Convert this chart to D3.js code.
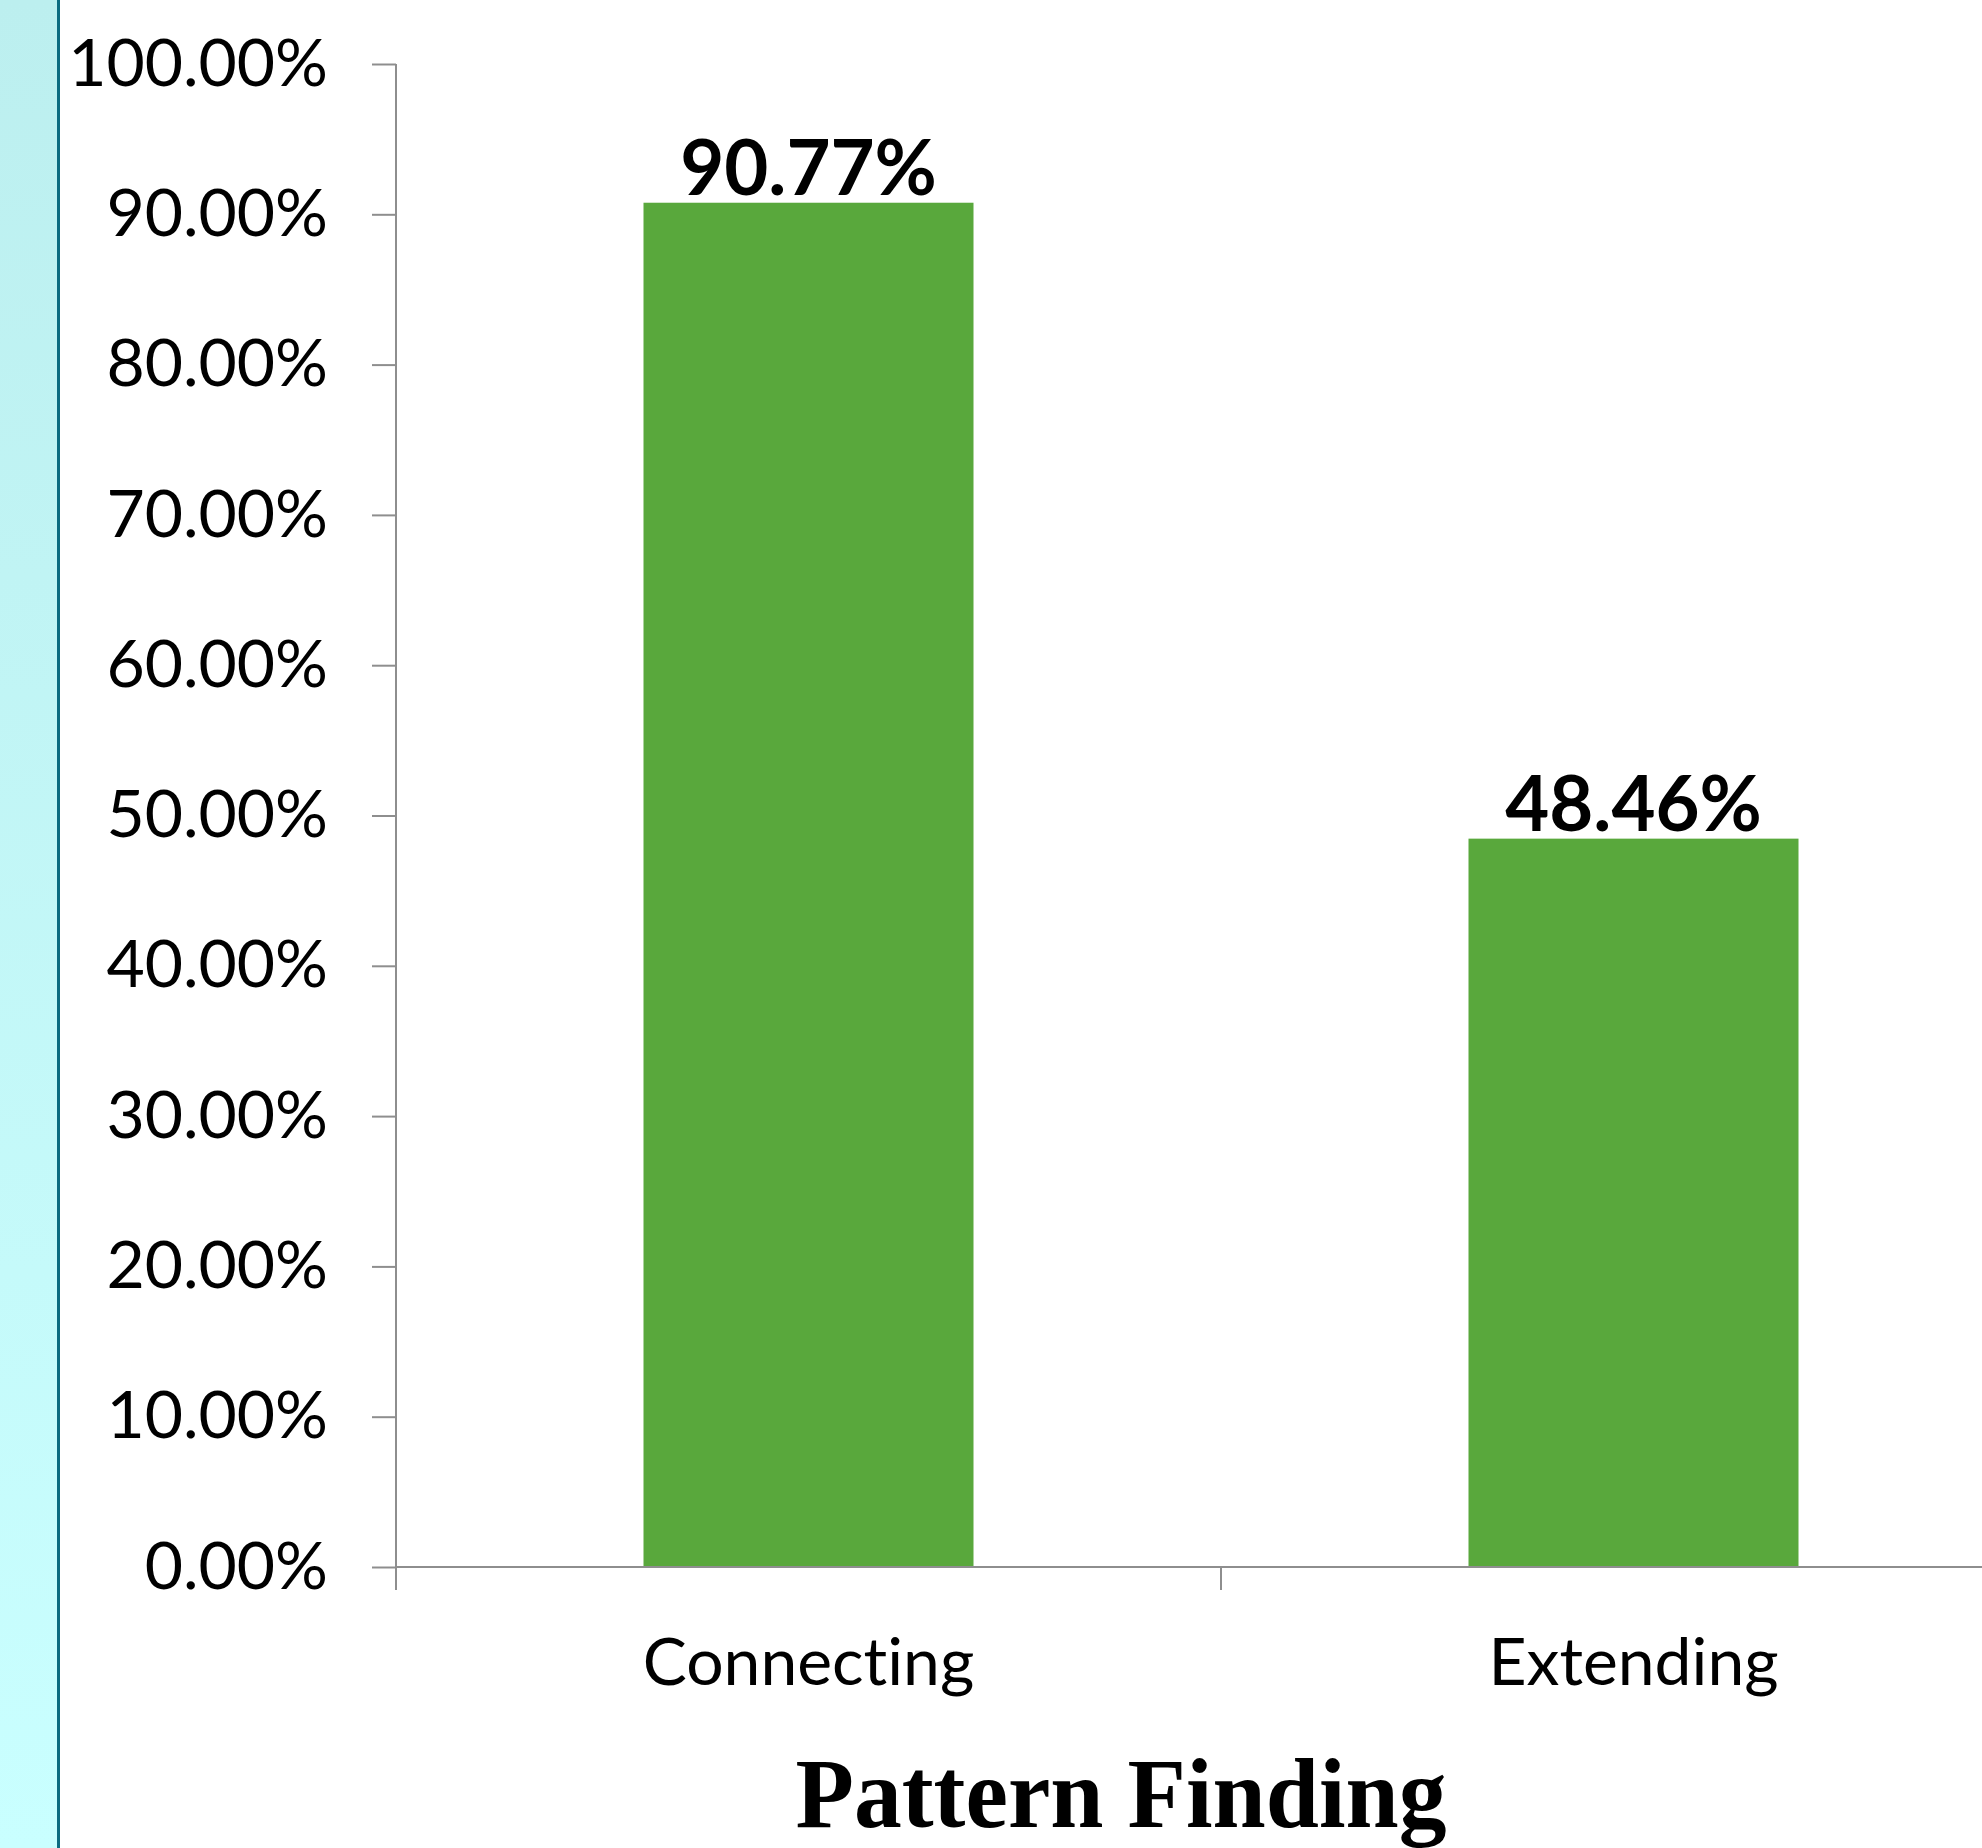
<!DOCTYPE html>
<html>
<head>
<meta charset="utf-8">
<script src="https://cdn.jsdelivr.net/npm/d3@7"></script>
<style>
  html, body { margin: 0; padding: 0; background: #ffffff; }
  svg { display: block; }
  text { font-variant-ligatures: none; font-feature-settings: "liga" 0; }
</style>
</head>
<body>
<script>
// Share of responses per pattern-finding strategy
const categories = ["Connecting", "Extending"];
const values = [0.9077, 0.4846];
const valueLabels = ["90.77%", "48.46%"];
const yTickValues = [0, 0.1, 0.2, 0.3, 0.4, 0.5, 0.6, 0.7, 0.8, 0.9, 1.0];
const yTickLabels = ["0.00%", "10.00%", "20.00%", "30.00%", "40.00%", "50.00%",
                     "60.00%", "70.00%", "80.00%", "90.00%", "100.00%"];
const chartTitle = "Pattern Finding";

const W = 1982, H = 1848;
const sansFont = "Lato, 'Open Sans', 'Liberation Sans', sans-serif";
const serifFont = "'Liberation Serif', 'DejaVu Serif', serif";

const svg = d3.select("body").append("svg")
  .attr("width", W).attr("height", H);

// Decorative side band with a dark edge
const defs = svg.append("defs");
const grad = defs.append("linearGradient")
  .attr("id", "sideBand").attr("x1", 0).attr("y1", 0).attr("x2", 0).attr("y2", 1);
grad.append("stop").attr("offset", "0%").attr("stop-color", "#bcefef");
grad.append("stop").attr("offset", "100%").attr("stop-color", "#c9ffff");
svg.append("rect").attr("x", 0).attr("y", 0).attr("width", 57).attr("height", H)
  .attr("fill", "url(#sideBand)");
svg.append("rect").attr("x", 57).attr("y", 0).attr("width", 3).attr("height", H)
  .attr("fill", "#0b6b80");

// Scales
const x = d3.scaleBand().domain(categories).range([396, 2046]).padding(0);
const y = d3.scaleLinear().domain([0, 1]).range([1567, 64]);
const barWidth = x.bandwidth() / 2.5;
const axisColor = "#8e8e8e";

// Y axis
const yAxis = d3.axisLeft(y)
  .tickValues(yTickValues)
  .tickFormat((d, i) => yTickLabels[i])
  .tickSize(24)
  .tickPadding(44);
const gy = svg.append("g").attr("transform", "translate(396,0)").call(yAxis);
gy.select(".domain").remove();
gy.selectAll(".tick line").attr("stroke", axisColor).attr("stroke-width", 2);
gy.selectAll(".tick text")
  .attr("font-family", sansFont).attr("font-size", 66).attr("fill", "#000");
svg.append("line")
  .attr("x1", 396).attr("x2", 396).attr("y1", y(1)).attr("y2", y(0) + 23)
  .attr("stroke", axisColor).attr("stroke-width", 2);

// Bars
svg.append("g").selectAll("rect")
  .data(categories)
  .join("rect")
  .attr("x", (d) => x(d) + (x.bandwidth() - barWidth) / 2)
  .attr("y", (d, i) => y(values[i]))
  .attr("width", barWidth)
  .attr("height", (d, i) => y(0) - y(values[i]))
  .attr("fill", "#59a83c");

// X axis: baseline with ticks at category boundaries
svg.append("line")
  .attr("x1", 396).attr("x2", W).attr("y1", y(0)).attr("y2", y(0))
  .attr("stroke", axisColor).attr("stroke-width", 2);
svg.append("g").selectAll("line")
  .data(categories)
  .join("line")
  .attr("x1", (d) => x(d)).attr("x2", (d) => x(d))
  .attr("y1", y(0)).attr("y2", y(0) + 23)
  .attr("stroke", axisColor).attr("stroke-width", 2);

// Category labels
svg.append("g").selectAll("text")
  .data(categories)
  .join("text")
  .attr("x", (d) => x(d) + x.bandwidth() / 2)
  .attr("y", 1685)
  .attr("text-anchor", "middle")
  .attr("font-family", sansFont).attr("font-size", 66).attr("fill", "#000")
  .text((d) => d);

// Value labels above bars
svg.append("g").selectAll("text")
  .data(categories)
  .join("text")
  .attr("x", (d) => x(d) + x.bandwidth() / 2)
  .attr("y", (d, i) => y(values[i]) - 8)
  .attr("text-anchor", "middle")
  .attr("font-family", sansFont).attr("font-weight", "bold")
  .attr("font-size", 76).attr("fill", "#000")
  .text((d, i) => valueLabels[i]);

// Title, set in a condensed bold serif
svg.append("text")
  .attr("x", 1121).attr("y", 1827)
  .attr("text-anchor", "middle")
  .attr("font-family", serifFont).attr("font-weight", "bold")
  .attr("font-size", 100).attr("fill", "#000")
  .attr("textLength", 651).attr("lengthAdjust", "spacingAndGlyphs")
  .text(chartTitle);
</script>
</body>
</html>
